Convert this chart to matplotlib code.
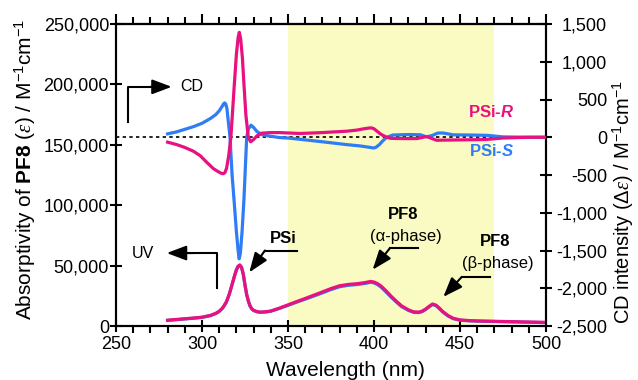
import matplotlib
matplotlib.use("Agg")
import matplotlib.pyplot as plt
from matplotlib.ticker import MultipleLocator, FuncFormatter

plt.rcParams["font.family"] = ["Liberation Sans", "DejaVu Sans"]
plt.rcParams["mathtext.fontset"] = "custom"
plt.rcParams["mathtext.rm"] = "Liberation Sans"
plt.rcParams["mathtext.it"] = "Liberation Serif:italic"
plt.rcParams["mathtext.bf"] = "Liberation Sans:bold"
plt.rcParams["mathtext.bfit"] = "Liberation Sans:bold:italic"

# ---- UV absorption (left axis) ----
wl_uv = [280, 285, 290, 295, 300, 305, 308, 310, 312, 314, 315, 316, 317, 318, 319,
         320, 321, 322, 323, 324, 325, 326, 327, 328, 329, 330, 332, 334, 337, 340,
         345, 350, 355, 360, 365, 370, 375, 380, 385, 390, 395, 398, 400, 402, 404,
         406, 408, 410, 413, 416, 420, 423, 426, 428, 430, 432, 434, 436, 438, 440,
         443, 446, 450, 455, 460, 470, 480, 490, 500]
uv_R = [4800, 5400, 6000, 6600, 7300, 8800, 10500, 12200, 15000, 19500, 23000, 27000,
        32000, 37000, 42000, 46500, 49500, 50500, 48500, 43000, 34000, 26000, 20500,
        16500, 14200, 13000, 11900, 11500, 11800, 12400, 14800, 17500, 20200, 22800,
        25500, 28200, 31000, 33300, 34400, 35000, 36000, 36900, 36400, 35100, 33200,
        30500, 27600, 24600, 20500, 16700, 13400, 11700, 11500, 12300, 14000, 16200,
        18200, 17300, 14800, 12000, 8700, 6400, 5000, 4500, 4200, 3900, 3600, 3300, 3000]
uv_S = [4600, 5200, 5800, 6400, 7100, 8600, 10300, 12000, 14800, 19300, 22800, 26800,
        31800, 36800, 41800, 46300, 49300, 50300, 48300, 42800, 33800, 25800, 20300,
        16300, 14000, 12800, 11700, 11300, 11600, 12200, 14500, 17100, 19700, 22200,
        24800, 27400, 30200, 32500, 33700, 34300, 35300, 36200, 35700, 34300, 32300,
        29600, 26700, 23800, 19800, 16100, 12900, 11300, 11100, 11900, 13600, 15800,
        17800, 16900, 14300, 11500, 8300, 6100, 4800, 4300, 4000, 3700, 3400, 3100, 2800]

# ---- CD (right axis) ----
wl_cd_R = [280, 285, 290, 295, 299, 302.7, 306.6, 309, 311, 312.3, 313.3, 314.3, 315.5,
           316.8, 317.8, 318.8, 320, 321, 321.7, 322.5, 323.5, 324.4, 325.5, 326.9,
           328.3, 330, 332, 335, 340, 345, 357, 370, 384, 390, 394, 397, 398.6, 400,
           401.5, 404, 407.4, 410, 420, 425, 430.6, 436.4, 440, 450, 465, 475, 490, 500]
cd_R = [-65, -95, -135, -185, -245, -330, -415, -450, -475, -483, -470, -410, -250, 0,
        350, 700, 1100, 1320, 1390, 1300, 1050, 700, 300, 0, -60, -30, 20, 55, 62, 62,
        50, 62, 80, 95, 112, 122, 124, 112, 85, 40, 0, -15, -18, -17, 10, -40, -38,
        -35, -30, -10, 0, 0]

wl_cd_S = [280, 285, 290, 295, 300, 305, 308, 310, 311, 312, 312.6, 313.2, 313.8,
           314.5, 315.2, 316.3, 317.5, 318.8, 320, 321, 321.6, 322.3, 323.3, 324.4,
           325.3, 326, 327, 328.5, 330, 332, 335, 338, 345, 350, 357, 370, 384, 392,
           397, 399.6, 401, 403, 405, 407.4, 411, 420, 427, 430.5, 434, 437, 440, 443,
           446, 455, 466, 475, 490, 500]
cd_S = [45, 70, 105, 140, 185, 250, 300, 350, 385, 420, 445, 455, 440, 380, 230, 0,
        -500, -880, -1250, -1500, -1610, -1540, -1250, -820, -350, 0, 110, 160, 130,
        75, 35, 20, -4, -10, -27, -60, -97, -115, -132, -142, -135, -100, -50, 0, 30,
        36, 33, 5, 25, 55, 57, 45, 32, 30, 25, 5, 0, 0]

shade_range = (350, 470)

magenta = "#E8117F"
blue = "#2E7CF6"

fig = plt.figure(figsize=(6.38, 3.80), dpi=100)
ax = fig.add_axes([0.1818, 0.1421, 0.6740, 0.7947])
ax2 = ax.twinx()

ax.axvspan(*shade_range, color="#FAFAC3", lw=0, zorder=0)

ax.plot(wl_uv, uv_S, color=blue, lw=2.3, zorder=2)
ax.plot(wl_uv, uv_R, color=magenta, lw=2.3, zorder=3)

ax2.axhline(0, color="black", lw=1.2, ls=(0, (2, 2)), zorder=1)
ax2.plot(wl_cd_S, cd_S, color=blue, lw=2.3, zorder=2)
ax2.plot(wl_cd_R, cd_R, color=magenta, lw=2.3, zorder=3)

ax.set_xlim(250, 500)
ax.set_ylim(0, 250000)
ax2.set_ylim(-2500, 1500)

comma = FuncFormatter(lambda v, p: f"{v:,.0f}")
ax.xaxis.set_major_locator(MultipleLocator(50))
ax.xaxis.set_minor_locator(MultipleLocator(10))
ax.yaxis.set_major_locator(MultipleLocator(50000))
ax.yaxis.set_major_formatter(comma)
ax2.yaxis.set_major_locator(MultipleLocator(500))
ax2.yaxis.set_major_formatter(comma)

for sp in list(ax.spines.values()) + list(ax2.spines.values()):
    sp.set_linewidth(1.5)

ax.tick_params(axis="x", which="major", direction="inout", length=9, width=1.5,
               labelsize=13, pad=3)
ax.tick_params(axis="x", which="minor", direction="out", length=5, width=1.5)
ax.tick_params(axis="y", which="major", direction="inout", length=8, width=1.5,
               labelsize=13, pad=1)
ax2.tick_params(axis="y", which="major", direction="inout", length=8, width=1.5,
                labelsize=13, pad=40)
for t in ax2.get_yticklabels():
    t.set_ha("right")

top = ax.secondary_xaxis("top")
top.xaxis.set_major_locator(MultipleLocator(50))
top.xaxis.set_minor_locator(MultipleLocator(10))
top.tick_params(which="major", direction="out", length=7, width=1.5, labeltop=False)
top.tick_params(which="minor", direction="out", length=5, width=1.5)
top.spines["top"].set_linewidth(1.5)

ax.set_xlabel("Wavelength (nm)", fontsize=15)
ax.xaxis.set_label_coords(0.533, -0.115)
ax.set_ylabel(r"Absorptivity of $\mathbf{PF8}$ ($\mathit{\varepsilon}$) / M$^{\mathrm{-1}}$cm$^{\mathrm{-1}}$",
              fontsize=15)
ax.yaxis.set_label_coords(-0.181, 0.517)
ax2.set_ylabel(r"CD intensity ($\mathit{\Delta\varepsilon}$) / M$^{\mathrm{-1}}$cm$^{\mathrm{-1}}$",
               fontsize=14.5)
ax2.yaxis.set_label_coords(1.15, 0.41)

arrow_kw = dict(arrowstyle="-|>,head_length=0.85,head_width=0.32", color="black",
                lw=1.5, shrinkA=0, shrinkB=0, mutation_scale=14)

# CD pointer
ax2.plot([257.2, 257.2, 275], [203, 668, 668], color="black", lw=1.5)
ax2.annotate("", xy=(282.4, 668), xytext=(270, 668), arrowprops=arrow_kw)
ax2.text(287.5, 668, "CD", fontsize=11.5, va="center", ha="left")

# UV pointer
ax.plot([308.5, 308.5, 290], [31500, 60400, 60400], color="black", lw=1.5)
ax.annotate("", xy=(279.5, 60400), xytext=(295, 60400), arrowprops=arrow_kw)
ax.text(265.7, 60400, "UV", fontsize=11.5, va="center", ha="center")

# peak labels
ax.plot([355.1, 336.6], [62500, 62500], color="black", lw=1.5)
ax.annotate("", xy=(327.5, 44400), xytext=(336.6, 62500), arrowprops=arrow_kw)
ax.text(347.4, 72800, "PSi", fontsize=12, fontweight="bold", ha="center", va="center")

ax.plot([425.7, 409.3], [64500, 64500], color="black", lw=1.5)
ax.annotate("", xy=(399.2, 46600), xytext=(409.3, 64500), arrowprops=arrow_kw)
ax.text(416.9, 92000, "PF8", fontsize=12, fontweight="bold", ha="center", va="center")
ax.text(418.6, 74100, "(\u03b1-phase)", fontsize=12, ha="center", va="center")

ax.plot([467.4, 451], [40600, 40600], color="black", lw=1.5)
ax.annotate("", xy=(440.3, 24100), xytext=(451, 40600), arrowprops=arrow_kw)
ax.text(470.3, 70000, "PF8", fontsize=12, fontweight="bold", ha="center", va="center")
ax.text(471.8, 52100, "(\u03b2-phase)", fontsize=12, ha="center", va="center")

# series labels
ax2.text(468, 328, r"PSi-$\mathbfit{R}$", color=magenta, fontsize=12,
         fontweight="bold", ha="center", va="center")
ax2.text(468.6, -186, r"PSi-$\mathbfit{S}$", color=blue, fontsize=12,
         fontweight="bold", ha="center", va="center")

fig.savefig("out.png", dpi=100)
